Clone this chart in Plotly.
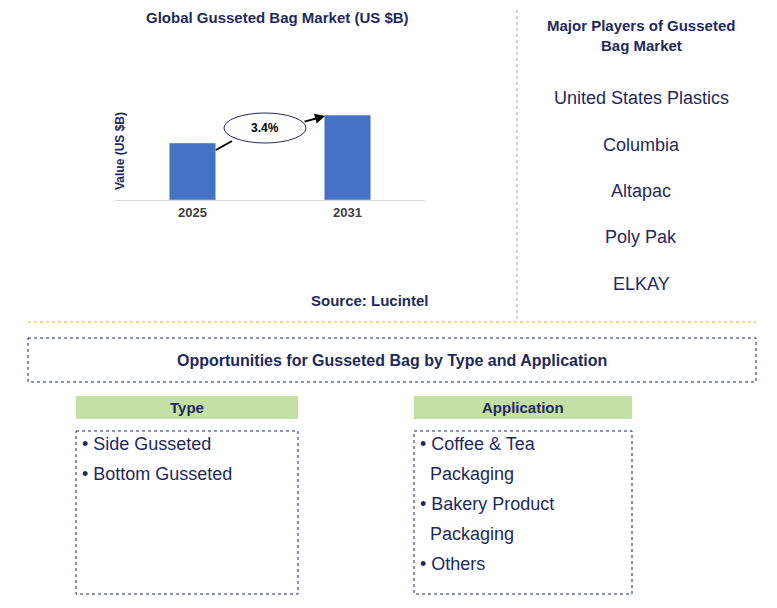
import plotly.graph_objects as go

W, H = 777, 608
OFF = 8
years = ["2025", "2031"]
values = [2.0, 2.98]
cagr = "3.4%"
players = ["United States Plastics", "Columbia", "Altapac", "Poly Pak", "ELKAY"]
types = ["• Side Gusseted", "• Bottom Gusseted"]
apps = ["• Coffee & Tea", "  Packaging", "• Bakery Product", "  Packaging", "• Others"]

FW, FH = W - 2 * OFF, H - 2 * OFF
def px(x): return (x - OFF) / FW
def py(y): return 1 - (y - OFF) / FH

navy = "#1f2a5c"
F = "Liberation Sans, Arial"
fig = go.Figure(go.Bar(x=years, y=values, marker_color="#4472c4", width=0.3))
fig.update_layout(
    width=FW, height=FH, margin=dict(l=0, r=0, t=0, b=0),
    plot_bgcolor="white", paper_bgcolor="white", showlegend=False,
    font=dict(family=F),
    xaxis=dict(domain=[px(115), px(425)], range=[-0.5, 1.5], showline=True,
               linecolor="#d9d9d9", ticks="", tickfont=dict(size=13, color="#404040", family=F),
               tickprefix="<b>", ticksuffix="</b>"),
    yaxis=dict(domain=[py(200), py(200 - 3.4 * 28.5)], range=[0, 3.4], showticklabels=False,
               showgrid=False, zeroline=False),
)
shapes = []
ann = []
def A(x, y, t, size=13, color=navy, bold=False, xanchor="center", angle=0):
    ann.append(dict(x=px(x), y=py(y), xref="paper", yref="paper", text=("<b>%s</b>" % t) if bold else t,
                    showarrow=False, font=dict(size=size, color=color, family=F),
                    xanchor=xanchor, yanchor="middle", textangle=angle))
def R(x0, y0, x1, y1, line=None, fill=None, dash="dot"):
    shapes.append(dict(type="rect", xref="paper", yref="paper", x0=px(x0), x1=px(x1), y0=py(y0), y1=py(y1),
                       line=dict(color=line or "rgba(0,0,0,0)", width=1, dash=dash), fillcolor=fill or "rgba(0,0,0,0)"))

A(277, 18, "Global Gusseted Bag Market (US $B)", 15, bold=True)
A(370, 300, "Source: Lucintel", 15, bold=True)
A(120, 151, "Value (US $B)", 12, bold=True, angle=-90)
shapes.append(dict(type="line", xref="paper", yref="paper", x0=px(216), x1=px(232), y0=py(150), y1=py(141),
                   line=dict(color="black", width=2)))
shapes.append(dict(type="circle", xref="paper", yref="paper", x0=px(224), x1=px(306), y0=py(113), y1=py(143),
                   line=dict(color=navy, width=1), fillcolor="white"))
ann.append(dict(x=px(325), y=py(116), ax=-22, ay=6, xref="paper", yref="paper",
                axref="pixel", ayref="pixel",
                showarrow=True, arrowhead=2, arrowsize=1, arrowwidth=2, arrowcolor="black", text=""))
A(265, 128, cagr, 12, "black", bold=True)
shapes.append(dict(type="line", xref="paper", yref="paper", x0=px(517), x1=px(517), y0=py(10), y1=py(320),
                   line=dict(color="#a6a6a6", width=1, dash="dot")))
shapes.append(dict(type="line", xref="paper", yref="paper", x0=px(28), x1=px(756), y0=py(322), y1=py(322),
                   line=dict(color="#d4b04a", width=1, dash="dot")))
A(641, 25, "Major Players of Gusseted", 15, bold=True)
A(641, 46, "Bag Market", 15, bold=True)
for i, p in enumerate(players):
    A(641, 98 + i * 46.5, p, 18, "#1f2a5c")
R(28, 338, 756, 382, line=navy)
A(392, 360, "Opportunities for Gusseted Bag by Type and Application", 16, bold=True)
R(76, 396, 298, 419, fill="#c5e0a5", dash="solid")
A(187, 407, "Type", 15, bold=True)
R(414, 396, 632, 419, fill="#c5e0a5", dash="solid")
A(523, 407, "Application", 15, bold=True)
R(76, 431, 298, 594, line=navy)
R(414, 431, 632, 594, line=navy)
for i, t in enumerate(types):
    A(80, 444 + i * 30, t.replace("  ", "&nbsp;&nbsp;"), 18, "#1f2a5c", xanchor="left")
for i, t in enumerate(apps):
    A(418, 444 + i * 30, t.replace("  ", "&nbsp;&nbsp;"), 18, "#1f2a5c", xanchor="left")
fig.update_layout(shapes=shapes, annotations=ann)
fig.write_html("out.html")
